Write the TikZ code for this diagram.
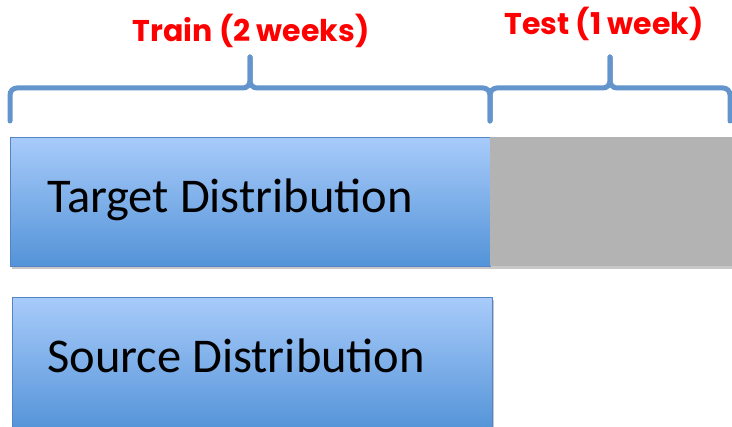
\documentclass[tikz,border=0pt]{standalone}
\usepackage{fontspec}
\newfontfamily\boxfont{Carlito}
\newfontfamily\titlefont{Poppins}
\usetikzlibrary{shadows}

\definecolor{bracecol}{RGB}{99,148,204}
\definecolor{boxtop}{RGB}{168,203,250}
\definecolor{boxbot}{RGB}{83,147,216}
\definecolor{boxedge}{RGB}{84,132,196}
\definecolor{testgray}{RGB}{179,179,179}

\begin{document}
\begin{tikzpicture}[x=1pt, y=-1pt,
    boxshadow/.style={drop shadow={shadow xshift=1.5pt, shadow yshift=-2.5pt, opacity=.3, fill=black!70}},
    distbox/.style={draw=boxedge, line width=1.2pt, top color=boxtop, bottom color=boxbot,
      minimum width=480pt, minimum height=129pt, inner sep=0pt, anchor=north west, boxshadow},
    testbox/.style={fill=testgray, minimum width=242pt, minimum height=129pt,
      inner sep=0pt, anchor=north west, boxshadow},
    disttext/.style={font=\boxfont\fontsize{48.5}{52}\selectfont, inner sep=0pt, anchor=base west},
    period/.style={font=\titlefont\bfseries\fontsize{30}{34}\selectfont, text=red, inner sep=0pt, anchor=base},
    bracestroke/.style={draw=bracecol, line width=5pt, line cap=round, rounded corners=7pt}]

  % canvas
  \useasboundingbox[fill=white] (0,0) rectangle (732,427);

  % target row: train part and test part
  \node[distbox] (target) at (10,137) {};
  \node[testbox] (testpart) at (490,137) {};
  \node[disttext] (targetlbl) at (47,213) {Target Distribution};

  % source row
  \node[distbox, minimum height=134pt] (source) at (12,297) {};
  \node[disttext] (sourcelbl) at (47,373) {Source Distribution};

  % braces over train and test
  \foreach \l/\m/\r in {10/250/490, 490/610/730} {
    \draw[bracestroke] (\l,121) -- (\l,88) -- (\m,88) -- (\m,57);
    \draw[bracestroke] (\m,57) -- (\m,88) -- (\r,88) -- (\r,121);
  }

  % titles
  \node[period] (train) at (251,42) {Train (2 weeks)};
  \node[period] (test) at (604,35) {Test (1 week)};

\end{tikzpicture}
\end{document}
